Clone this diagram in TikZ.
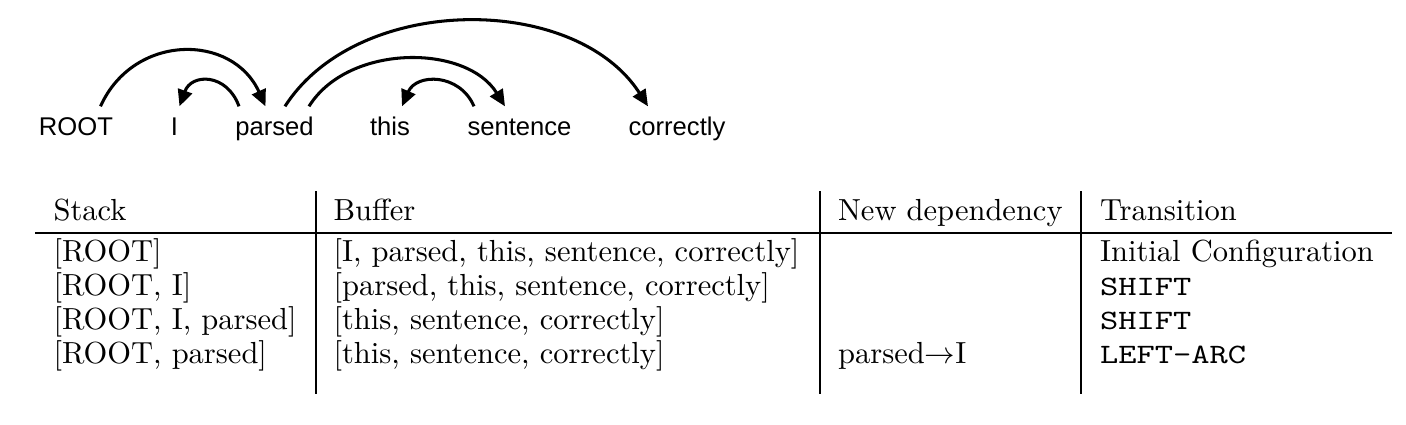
\documentclass[tikz,border=0pt]{standalone}
\usepackage{fontspec}
\usepackage{graphicx}
\newfontfamily\arcfont{Liberation Sans}
\newcommand{\trtext}[1]{\scalebox{1.14}[0.92]{\texttt{#1}}}
\usetikzlibrary{calc,arrows.meta}
\begin{document}
\begin{tikzpicture}[x=0.3279pt,y=-0.3279pt,
  word/.style={font=\arcfont\fontsize{8.4}{10}\selectfont, anchor=base, inner xsep=0pt, inner ysep=2.9pt, text height=6.3pt, text depth=1.7pt},
  dep/.style={line width=1pt, -{Triangle[length=5.4pt,width=4.8pt]}},
  cell/.style={anchor=base west, inner sep=0pt, font=\fontsize{10}{12}\selectfont},
  tabrule/.style={line width=0.45pt}]
\useasboundingbox (0,0) rectangle (1406,424);
% sentence
\node[word] (root) at (76,135) {ROOT};
\node[word] (i) at (174.5,135) {I};
\node[word] (parsed) at (274.5,135) {parsed};
\node[word] (this) at (390,135) {this};
\node[word] (sentence) at (519.5,135) {sentence};
\node[word] (correctly) at (677,135) {correctly};
% arcs
\draw[dep] ($(root.north)+(24.5,0)$) .. controls +(33,-73.3) and +(-33,-73.3) .. ($(parsed.north)+(-9,0)$);
\draw[dep] ($(parsed.north)+(-35.5,0)$) .. controls +(-12,-33.3) and +(12,-33.3) .. ($(i.north)+(5,0)$);
\draw[dep] ($(parsed.north)+(10.5,0)$) .. controls +(72.7,-113.3) and +(-72.7,-113.3) .. ($(correctly.north)+(-29,0)$);
\draw[dep] ($(parsed.north)+(34.5,0)$) .. controls +(39,-62.7) and +(-39,-62.7) .. ($(sentence.north)+(-14.5,0)$);
\draw[dep] ($(sentence.north)+(-45.5,0)$) .. controls +(-14.3,-33.3) and +(14.3,-33.3) .. ($(this.north)+(12,0)$);
% table rules
\coordinate (hl) at (35,233);
\coordinate (hr) at (1392,233);
\draw[tabrule] (hl) -- (hr);
\foreach \vx in {316,820,1081} \draw[tabrule] (\vx,191) -- (\vx,394);
% header
\node[cell] (hstack) at (53,220) {Stack};
\node[cell] (hbuf) at (333,220) {Buffer};
\node[cell] (hdep) at (837.5,220) {New dependency};
\node[cell] (htr) at (1099.5,220) {Transition};
% rows
\node[cell] (s1) at (53,261) {[ROOT]};
\node[cell] (b1) at (333,261) {[I, parsed, this, sentence, correctly]};
\node[cell] (t1) at (1099.5,261) {Initial Configuration};
\node[cell] (s2) at (53,295) {[ROOT, I]};
\node[cell] (b2) at (333,295) {[parsed, this, sentence, correctly]};
\node[cell] (t2) at (1099.5,295) {\trtext{SHIFT}};
\node[cell] (s3) at (53,329) {[ROOT, I, parsed]};
\node[cell] (b3) at (333,329) {[this, sentence, correctly]};
\node[cell] (t3) at (1099.5,329) {\trtext{SHIFT}};
\node[cell] (s4) at (53,363) {[ROOT, parsed]};
\node[cell] (b4) at (333,363) {[this, sentence, correctly]};
\node[cell] (d4) at (837.5,363) {parsed$\rightarrow$I};
\node[cell] (t4) at (1099.5,363) {\trtext{LEFT-ARC}};
\end{tikzpicture}
\end{document}
